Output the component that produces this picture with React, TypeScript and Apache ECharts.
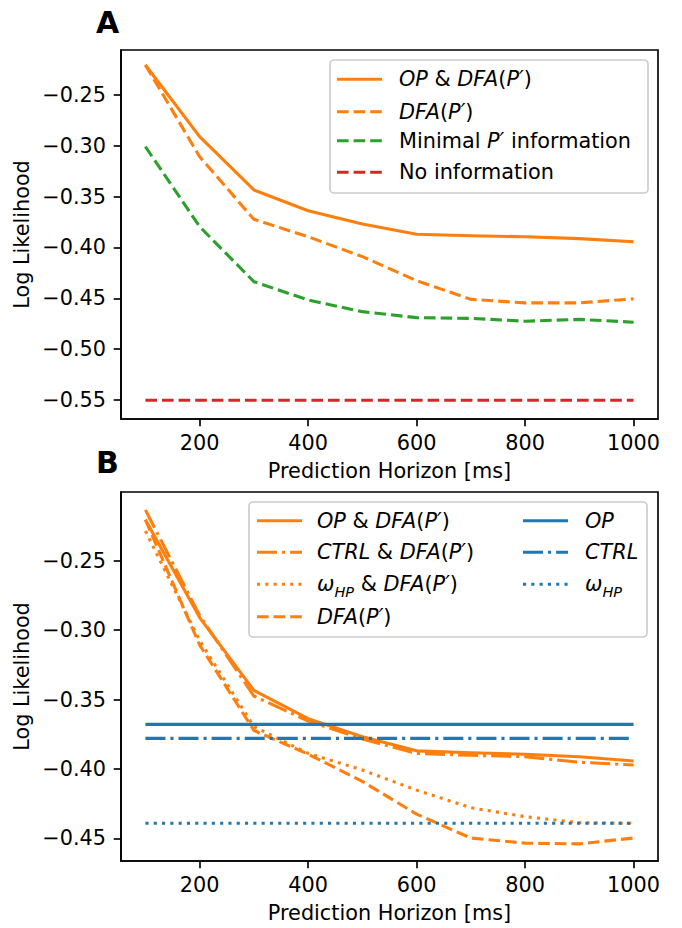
import React, { useEffect, useRef } from 'react';
import * as echarts from 'echarts';

// ---------- data ----------
const horizons = [100, 200, 300, 400, 500, 600, 700, 800, 900, 1000];

// Panel A
const aOpDfa = [-0.2205, -0.291, -0.3434, -0.3638, -0.3769, -0.387, -0.3884, -0.3894, -0.3913, -0.3943];
const aDfa = [-0.2205, -0.3107, -0.3723, -0.3894, -0.409, -0.4326, -0.451, -0.4545, -0.4545, -0.4505];
const aMinimal = [-0.3008, -0.3795, -0.4336, -0.4516, -0.4631, -0.469, -0.4697, -0.4725, -0.4707, -0.4735];
const aNoInfo = [-0.5502, -0.5502, -0.5502, -0.5502, -0.5502, -0.5502, -0.5502, -0.5502, -0.5502, -0.5502];

// Panel B
const bOpDfa = [-0.2205, -0.291, -0.3434, -0.3638, -0.3769, -0.387, -0.3884, -0.3894, -0.3913, -0.3943];
const bCtrlDfa = [-0.2134, -0.2895, -0.3475, -0.3655, -0.3785, -0.3888, -0.3902, -0.3912, -0.3952, -0.3972];
const bOmegaDfa = [-0.2286, -0.3075, -0.3695, -0.3888, -0.4008, -0.4153, -0.428, -0.4344, -0.4388, -0.4392];
const bDfa = [-0.2205, -0.3107, -0.3723, -0.3894, -0.409, -0.4326, -0.4498, -0.4535, -0.454, -0.4498];
const bOp = [-0.3679, -0.3679, -0.3679, -0.3679, -0.3679, -0.3679, -0.3679, -0.3679, -0.3679, -0.3679];
const bCtrl = [-0.378, -0.378, -0.378, -0.378, -0.378, -0.378, -0.378, -0.378, -0.378, -0.378];
const bOmega = [-0.4392, -0.4392, -0.4392, -0.4392, -0.4392, -0.4392, -0.4392, -0.4392, -0.4392, -0.4392];

const xTicks = [200, 400, 600, 800, 1000];
const yTicksA = [-0.55, -0.5, -0.45, -0.4, -0.35, -0.3, -0.25];
const yTicksB = [-0.45, -0.4, -0.35, -0.3, -0.25];

const xLabel = 'Prediction Horizon [ms]';
const yLabel = 'Log Likelihood';

// ---------- styles ----------
const FONT = '"DejaVu Sans", sans-serif';
const FS = 20.8;
const ORANGE = '#ff7f0e';
const GREEN = '#2ca02c';
const RED = '#d62728';
const BLUE = '#1f77b4';
const LW = 3.1;
const DASHED = [11.6, 5];
const DOTTED = [3.1, 5.2];
const DASHDOT = [20, 5, 3.1, 5];
const SPINE = 1.65;

const GRID_LEFT = 121;
const GRID_W = 537;
const GRID_H = 369;
const TOP_A = 50;
const TOP_B = 492;

const fmtY = (v: number) => (v < 0 ? '\u2212' : '') + Math.abs(v).toFixed(2);
const fmtX = (v: number) => String(Math.round(v));

const pts = (ys: number[]) => horizons.map((h, i) => [h, ys[i]]);

const lineSeries = (name: string, ys: number[], color: string, dash: any, grid: number) => ({
  type: 'line',
  name,
  xAxisIndex: grid,
  yAxisIndex: grid,
  data: pts(ys),
  showSymbol: false,
  symbol: 'none',
  silent: true,
  lineStyle: { color, width: LW, type: dash, cap: 'butt', join: 'round' },
});

const xAxis = (gridIndex: number) => ({
  type: 'value',
  gridIndex,
  min: 55,
  max: 1045,
  axisLine: { show: true, lineStyle: { color: '#000', width: SPINE } },
  splitLine: { show: false },
  axisTick: { show: true, customValues: xTicks, length: 7.3, inside: false, lineStyle: { color: '#000', width: SPINE } },
  axisLabel: { customValues: xTicks, margin: 13, fontSize: FS, color: '#000', fontFamily: FONT, formatter: fmtX },
});

const yAxis = (gridIndex: number, min: number, max: number, ticks: number[]) => ({
  type: 'value',
  gridIndex,
  min,
  max,
  axisLine: { show: true, lineStyle: { color: '#000', width: SPINE } },
  splitLine: { show: false },
  axisTick: { show: true, customValues: ticks, length: 7.3, inside: false, lineStyle: { color: '#000', width: SPINE } },
  axisLabel: { customValues: ticks, margin: 15, fontSize: FS, color: '#000', fontFamily: FONT, formatter: fmtY },
});

const rich = {
  i: { fontStyle: 'italic', fontSize: FS, fontFamily: FONT, lineHeight: 24, fill: '#000' },
  n: { fontStyle: 'normal', fontSize: FS, fontFamily: FONT, lineHeight: 24, fill: '#000' },
  s: { fontStyle: 'italic', fontSize: 14.5, fontFamily: FONT, lineHeight: 30, verticalAlign: 'bottom', fill: '#000' },
};

const legendText = (x: number, y: number, text: string) => ({
  type: 'text',
  x,
  y,
  z: 101,
  style: { text, rich, textAlign: 'left', textVerticalAlign: 'middle', verticalAlign: 'middle', fontSize: FS, fontFamily: FONT, fill: '#000' },
});

const legendLine = (x1: number, x2: number, y: number, color: string, dash: any) => ({
  type: 'line',
  z: 101,
  shape: { x1, y1: y, x2, y2: y },
  style: { stroke: color, lineWidth: LW, lineDash: dash === 'solid' ? null : dash, lineCap: 'butt' },
});

const legendBox = (x: number, y: number, w: number, h: number) => ({
  type: 'rect',
  z: 100,
  shape: { x, y, width: w, height: h, r: 4 },
  style: { fill: 'rgba(255,255,255,0.8)', stroke: '#cccccc', lineWidth: SPINE },
});

const plainText = (x: number, y: number, text: string, opts: any = {}) => ({
  type: 'text',
  x,
  y,
  z: 100,
  rotation: opts.rotation || 0,
  style: {
    text,
    textAlign: 'center',
    textVerticalAlign: 'middle',
    verticalAlign: 'middle',
    fontSize: opts.fontSize || FS,
    fontWeight: opts.fontWeight || 'normal',
    fontFamily: FONT,
    fill: '#000',
  },
});

const LBL_OPDFA = '{i|OP}{n| & }{i|DFA}{n|(}{i|P\u2032}{n|)}';
const LBL_DFA = '{i|DFA}{n|(}{i|P\u2032}{n|)}';
const LBL_MIN = '{n|Minimal }{i|P\u2032}{n| information}';
const LBL_NO = '{n|No information}';
const LBL_CTRLDFA = '{i|CTRL}{n| & }{i|DFA}{n|(}{i|P\u2032}{n|)}';
const LBL_OMDFA = '{i|\u03c9}{s|HP}{n| & }{i|DFA}{n|(}{i|P\u2032}{n|)}';
const LBL_OP = '{i|OP}';
const LBL_CTRL = '{i|CTRL}';
const LBL_OM = '{i|\u03c9}{s|HP}';

export default function App() {
  const ref = useRef<HTMLDivElement>(null);
  useEffect(() => {
    if (!ref.current) return;
    const chart = echarts.init(ref.current, undefined, { renderer: 'svg' });
    const yMinA = -0.55 - 19 / 1016.7;
    const yMaxA = -0.25 + 45 / 1016.7;
    const yMinB = -0.45 - 22.7 / 1388;
    const yMaxB = -0.25 + 68.7 / 1388;

    const rowsA = [79.3, 111.7, 140.7, 172.2];
    const rowsB = [520.7, 552.2, 584.2, 616.7];

    const option: any = {
      animation: false,
      backgroundColor: '#ffffff',
      textStyle: { fontFamily: FONT },
      grid: [
        { left: GRID_LEFT, top: TOP_A, width: GRID_W, height: GRID_H, show: true, borderColor: '#000', borderWidth: SPINE, backgroundColor: 'transparent' },
        { left: GRID_LEFT, top: TOP_B, width: GRID_W, height: GRID_H, show: true, borderColor: '#000', borderWidth: SPINE, backgroundColor: 'transparent' },
      ],
      xAxis: [xAxis(0), xAxis(1)],
      yAxis: [yAxis(0, yMinA, yMaxA, yTicksA), yAxis(1, yMinB, yMaxB, yTicksB)],
      series: [
        lineSeries('OP & DFA(P\u2032)', aOpDfa, ORANGE, 'solid', 0),
        lineSeries('DFA(P\u2032)', aDfa, ORANGE, DASHED, 0),
        lineSeries('Minimal P\u2032 information', aMinimal, GREEN, DASHED, 0),
        lineSeries('No information', aNoInfo, RED, DASHED, 0),
        lineSeries('OP & DFA(P\u2032) ', bOpDfa, ORANGE, 'solid', 1),
        lineSeries('CTRL & DFA(P\u2032)', bCtrlDfa, ORANGE, DASHDOT, 1),
        lineSeries('\u03c9HP & DFA(P\u2032)', bOmegaDfa, ORANGE, DOTTED, 1),
        lineSeries('DFA(P\u2032) ', bDfa, ORANGE, DASHED, 1),
        lineSeries('OP', bOp, BLUE, 'solid', 1),
        lineSeries('CTRL', bCtrl, BLUE, DASHDOT, 1),
        lineSeries('\u03c9HP', bOmega, BLUE, DOTTED, 1),
      ],
      graphic: [
        // panel letters
        plainText(107.5, 22, 'A', { fontSize: 30, fontWeight: 'bold' }),
        plainText(107.5, 462, 'B', { fontSize: 30, fontWeight: 'bold' }),
        // axis titles
        plainText(389.5, 471, xLabel),
        plainText(389.5, 913, xLabel),
        plainText(22, 234.5, yLabel, { rotation: Math.PI / 2 }),
        plainText(22, 676.5, yLabel, { rotation: Math.PI / 2 }),
        // legend A
        legendBox(330, 60, 318, 133),
        legendLine(337, 382, rowsA[0], ORANGE, 'solid'),
        legendLine(337, 382, rowsA[1], ORANGE, DASHED),
        legendLine(337, 382, rowsA[2], GREEN, DASHED),
        legendLine(337, 382, rowsA[3], RED, DASHED),
        legendText(399, rowsA[0], LBL_OPDFA),
        legendText(399, rowsA[1], LBL_DFA),
        legendText(399, rowsA[2], LBL_MIN),
        legendText(399, rowsA[3], LBL_NO),
        // legend B
        legendBox(249, 502, 398, 135),
        legendLine(257, 302, rowsB[0], ORANGE, 'solid'),
        legendLine(257, 302, rowsB[1], ORANGE, DASHDOT),
        legendLine(257, 302, rowsB[2], ORANGE, DOTTED),
        legendLine(257, 302, rowsB[3], ORANGE, DASHED),
        legendText(317, rowsB[0], LBL_OPDFA),
        legendText(317, rowsB[1], LBL_CTRLDFA),
        legendText(317, rowsB[2], LBL_OMDFA),
        legendText(317, rowsB[3], LBL_DFA),
        legendLine(523, 568, rowsB[0], BLUE, 'solid'),
        legendLine(523, 568, rowsB[1], BLUE, DASHDOT),
        legendLine(523, 568, rowsB[2], BLUE, DOTTED),
        legendText(585, rowsB[0], LBL_OP),
        legendText(585, rowsB[1], LBL_CTRL),
        legendText(585, rowsB[2], LBL_OM),
      ],
    };
    chart.setOption(option);
    return () => chart.dispose();
  }, []);
  return (
    <div
      ref={ref}
      style={{ position: 'fixed', left: 0, top: 0, width: 682, height: 928, background: '#fff' }}
    />
  );
}
